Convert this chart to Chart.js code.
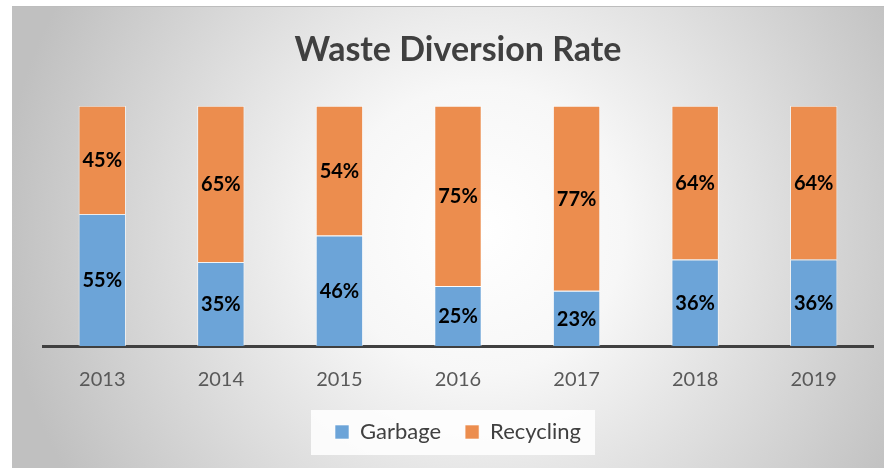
<!DOCTYPE html>
<html>
<head>
<meta charset="utf-8">
<script src="https://cdn.jsdelivr.net/npm/chart.js@4"></script>
<style>
  html, body { margin: 0; padding: 0; background: #ffffff; }
  #wrap { width: 884px; height: 468px; }
</style>
</head>
<body>
<div id="wrap"><canvas id="diversion-canvas" width="884" height="468"></canvas></div>
<script>
var years = ['2013', '2014', '2015', '2016', '2017', '2018', '2019'];
var garbage = [55, 35, 46, 25, 23, 36, 36];
var recycling = [45, 65, 54, 75, 77, 64, 64];

var colorGarbage = '#6ca4d8';
var colorRecycling = '#ec8d4e';
var textDark = '#404040';

// gradient panel + white box behind the legend
var backdrop = {
    id: 'backdrop',
    beforeDraw: function(chart) {
        var ctx = chart.ctx;
        ctx.save();
        ctx.fillStyle = '#ffffff';
        ctx.fillRect(0, 0, chart.width, chart.height);
        var g = ctx.createRadialGradient(480, 230, 0, 480, 230, 480);
        g.addColorStop(0, '#ffffff');
        g.addColorStop(0.3, '#f7f7f7');
        g.addColorStop(1, '#c0c0c0');
        ctx.fillStyle = g;
        ctx.fillRect(12, 6, chart.width - 12, chart.height - 6);
        ctx.fillStyle = '#bdbdbd';
        ctx.fillRect(12, 6, chart.width - 12, 1);

        var boxes = chart.legend.legendHitBoxes;
        if (boxes && boxes.length) {
            var first = boxes[0], last = boxes[boxes.length - 1];
            var left = first.left - 24;
            var right = last.left + last.width + 14;
            var mid = first.top + first.height / 2;
            ctx.fillStyle = 'rgba(255,255,255,0.85)';
            ctx.fillRect(left, mid - 22, right - left, 45);
        }
        ctx.restore();
    }
};

// percent labels in the middle of each segment
var segLabels = {
    id: 'segLabels',
    afterDatasetsDraw: function(chart) {
        var ctx = chart.ctx;
        ctx.save();
        ctx.font = 'bold 20px Lato';
        ctx.fillStyle = '#000000';
        ctx.textAlign = 'center';
        ctx.textBaseline = 'middle';
        chart.data.datasets.forEach(function(ds, di) {
            chart.getDatasetMeta(di).data.forEach(function(bar, i) {
                var mid = (bar.y + bar.base) / 2;
                ctx.fillText(ds.data[i] + '%', bar.x, mid + 1);
            });
        });
        ctx.restore();
    }
};

var diversionCanvas = document.getElementById('diversion-canvas').getContext('2d');

var diversionChart = new Chart(diversionCanvas, {
    type: 'bar',
    data: {
        labels: years,
        datasets: [
            {
                label: 'Garbage',
                data: garbage,
                backgroundColor: colorGarbage,
                borderColor: 'rgba(255,255,255,0.6)',
                borderWidth: 1,
                categoryPercentage: 1,
                barPercentage: 0.4
            },
            {
                label: 'Recycling',
                data: recycling,
                backgroundColor: colorRecycling,
                borderColor: 'rgba(255,255,255,0.6)',
                borderWidth: 1,
                categoryPercentage: 1,
                barPercentage: 0.4
            }
        ]
    },
    options: {
        responsive: false,
        animation: false,
        layout: {
            padding: { left: 43, right: 11, top: 6, bottom: 15 }
        },
        scales: {
            x: {
                stacked: true,
                grid: { display: false, drawTicks: false },
                border: { color: textDark, width: 3 },
                ticks: {
                    color: '#595959',
                    padding: 22,
                    font: { family: 'Lato', size: 20, lineHeight: 1.2 }
                },
                afterFit: function(scale) {
                    scale.height = 51;
                }
            },
            y: {
                stacked: true,
                display: false,
                min: 0,
                max: 100
            }
        },
        plugins: {
            title: {
                display: true,
                text: 'Waste Diversion Rate',
                color: textDark,
                font: { family: 'Lato', size: 34, weight: 'bold', lineHeight: 1.2 },
                padding: { top: 24, bottom: 35 }
            },
            legend: {
                position: 'bottom',
                labels: {
                    color: textDark,
                    boxWidth: 14,
                    boxHeight: 14,
                    padding: 24,
                    font: { family: 'Lato', size: 22 }
                }
            },
            tooltip: { enabled: false }
        }
    },
    plugins: [backdrop, segLabels]
});
</script>
</body>
</html>
